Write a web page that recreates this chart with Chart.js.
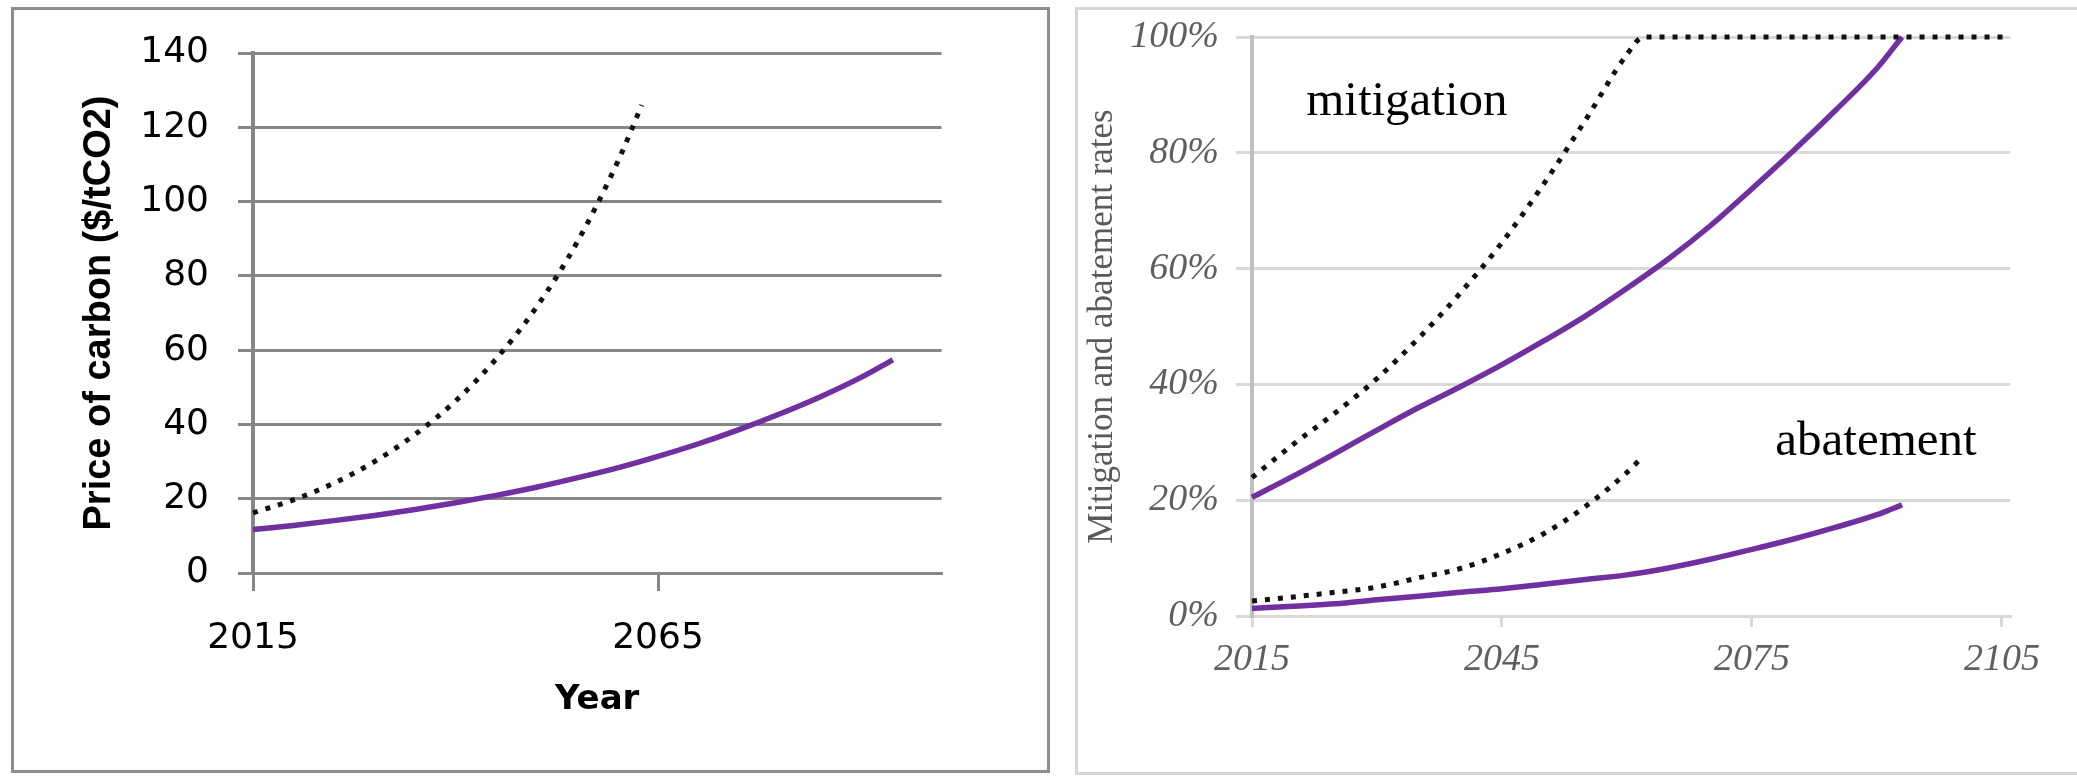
<!DOCTYPE html>
<html>
<head>
<meta charset="utf-8">
<script src="https://cdn.jsdelivr.net/npm/chart.js@4.4.1/dist/chart.umd.min.js"></script>
<style>
  html, body { margin: 0; background: #fff; }
  body { width: 2077px; height: 776px; position: relative; overflow: hidden; }
  .frame { position: absolute; box-sizing: border-box; }
  #leftFrame { left: 11px; top: 7px; width: 1039px; height: 766px; border: 3px solid #8e8e8e; }
  #rightFrame { left: 1075px; top: 7px; width: 1010px; height: 768px; border: 3px solid #d6d6d6; }
  canvas { position: absolute; }
  #priceChart { left: 15px; top: 0; }
  #rateChart { left: 1079px; top: -10px; }
</style>
</head>
<body>
<div class="frame" id="leftFrame"></div>
<div class="frame" id="rightFrame"></div>
<canvas id="priceChart" width="1030" height="776"></canvas>
<canvas id="rateChart" width="998" height="786"></canvas>
<script>
// --- carbon price, $/tCO2 ---
const priceYears = [2015, 2020, 2025, 2030, 2035, 2040, 2045, 2050, 2055, 2060, 2065, 2070, 2075, 2080, 2085, 2090, 2094];
const priceSolid = [11.7, 12.8, 14.1, 15.5, 17.1, 18.9, 20.9, 23.1, 25.6, 28.3, 31.4, 34.8, 38.6, 42.8, 47.4, 52.6, 57.4];
const priceDottedYears = [2015, 2020, 2025, 2030, 2035, 2040, 2045, 2050, 2055, 2060, 2063];
const priceDotted = [16.2, 19.7, 24.2, 30.0, 37.3, 46.3, 57.6, 71.6, 89.0, 110.6, 126];
const priceTicks = [0, 20, 40, 60, 80, 100, 120, 140];
const priceYearTicks = [2015, 2065];

// --- mitigation and abatement rates, % ---
const rateYears = [2015, 2020, 2025, 2030, 2035, 2040, 2045, 2050, 2055, 2060, 2065, 2070, 2075, 2080, 2085, 2090, 2093];
const mitigationSolid = [20.5, 24.2, 28.1, 32.1, 36.0, 39.6, 43.4, 47.5, 51.8, 56.6, 61.7, 67.4, 73.8, 80.4, 87.3, 94.6, 100];
const abatementSolid = [1.3, 1.7, 2.1, 2.8, 3.4, 4.1, 4.7, 5.5, 6.3, 7.1, 8.3, 9.8, 11.5, 13.3, 15.3, 17.5, 19.2];
const mitigationDottedYears = [2015, 2020, 2025, 2030, 2035, 2040, 2045, 2050, 2055, 2060, 2062, 2106];
const mitigationDotted = [23.9, 29.7, 35.1, 41.0, 48.0, 55.8, 64.5, 74.6, 85.6, 97.0, 100, 100];
const abatementDottedYears = [2015, 2020, 2025, 2030, 2035, 2040, 2045, 2050, 2055, 2060, 2062];
const abatementDotted = [2.6, 3.3, 4.1, 5.0, 6.6, 8.2, 10.8, 14.2, 18.9, 24.8, 27.7];
const rateTicks = [0, 20, 40, 60, 80, 100];
const rateYearTicks = [2015, 2045, 2075, 2105];
const rateNotes = [
    { text: 'mitigation', year: 2021.5, value: 86.5 },
    { text: 'abatement', year: 2077.8, value: 27.8 }
];

const PURPLE = '#7030A0';

const pts = (xs, ys) => xs.map((x, i) => ({ x, y: ys[i] }));
const solid = (xs, ys) => ({ data: pts(xs, ys), borderColor: PURPLE, borderWidth: 5.5, pointRadius: 0, cubicInterpolationMode: 'monotone', clip: false });
const dotted = (xs, ys) => ({ data: pts(xs, ys), borderColor: '#111', borderWidth: 5, borderDash: [5, 8], pointRadius: 0, cubicInterpolationMode: 'monotone', clip: false });
const fixTicks = values => scale => { scale.ticks = values.map(v => ({ value: v })); };
const plainYear = v => String(v);

// text labels placed next to the curves
const noteLabels = {
    id: 'noteLabels',
    afterDatasetsDraw(chart, args, opts) {
        const { ctx, scales: { x, y } } = chart;
        ctx.save();
        ctx.font = opts.font;
        ctx.fillStyle = opts.color;
        ctx.textBaseline = 'alphabetic';
        opts.items.forEach(n => ctx.fillText(n.text, x.getPixelForValue(n.year), y.getPixelForValue(n.value)));
        ctx.restore();
    }
};

new Chart(document.getElementById('priceChart'), {
    type: 'line',
    data: { datasets: [dotted(priceDottedYears, priceDotted), solid(priceYears, priceSolid)] },
    options: {
        responsive: false, animation: false, events: [],
        layout: { padding: { left: 0, top: 53, right: 103.5, bottom: 53 } },
        plugins: { legend: { display: false }, tooltip: { enabled: false } },
        scales: {
            x: {
                type: 'linear', min: 2015, max: 2100,
                afterBuildTicks: fixTicks(priceYearTicks),
                afterFit: s => { s.height = 150; },
                grid: { drawOnChartArea: false, color: '#868686', lineWidth: 3, tickLength: 18 },
                border: { color: '#868686', width: 3 },
                ticks: { autoSkip: false, maxRotation: 0, padding: 26, color: '#000', font: { family: "'DejaVu Sans'", size: 36 }, callback: plainYear },
                title: { display: true, text: 'Year', color: '#000', font: { family: "'DejaVu Sans'", size: 34, weight: 'bold' }, padding: { top: 0, bottom: 2.6 } }
            },
            y: {
                min: 0, max: 140,
                afterBuildTicks: fixTicks(priceTicks),
                afterFit: s => { s.width = 238; },
                grid: { color: '#868686', lineWidth: 3, tickLength: 15 },
                border: { color: '#868686', width: 4 },
                ticks: { padding: 29, color: '#000', font: { family: "'DejaVu Sans'", size: 36 } },
                title: { display: true, text: 'Price of carbon ($/tCO2)', color: '#000', font: { family: "'Liberation Sans'", size: 38, weight: 'bold' }, padding: { top: 62, bottom: 0 } }
            }
        }
    }
});

new Chart(document.getElementById('rateChart'), {
    type: 'line',
    data: {
        datasets: [
            dotted(mitigationDottedYears, mitigationDotted),
            solid(rateYears, mitigationSolid),
            dotted(abatementDottedYears, abatementDotted),
            solid(rateYears, abatementSolid)
        ]
    },
    plugins: [noteLabels],
    options: {
        responsive: false, animation: false, events: [],
        layout: { padding: { left: 0, top: 47, right: 66.7, bottom: 60 } },
        plugins: {
            legend: { display: false }, tooltip: { enabled: false },
            noteLabels: { items: rateNotes, font: "49px 'Liberation Serif'", color: '#000' }
        },
        scales: {
            x: {
                type: 'linear', min: 2015, max: 2106,
                afterBuildTicks: fixTicks(rateYearTicks),
                afterFit: s => { s.height = 100; },
                grid: { drawOnChartArea: false, color: '#d9d9d9', lineWidth: 3, tickLength: 11 },
                border: { color: '#d9d9d9', width: 3 },
                ticks: { autoSkip: false, maxRotation: 0, padding: 10, color: '#5f5f5f', font: { family: "'Liberation Serif'", size: 38, style: 'italic' }, callback: plainYear }
            },
            y: {
                min: 0, max: 100,
                afterBuildTicks: fixTicks(rateTicks),
                afterFit: s => { s.width = 173; },
                grid: { color: '#d9d9d9', lineWidth: 3, tickLength: 16 },
                border: { color: '#c0c0c0', width: 4 },
                ticks: { padding: 17, color: '#5f5f5f', font: { family: "'Liberation Serif'", size: 38, style: 'italic' }, callback: v => v + '%' },
                title: { display: true, text: 'Mitigation and abatement rates', color: '#595959', font: { family: "'Liberation Serif'", size: 35 }, padding: { top: 3, bottom: 0 } }
            }
        }
    }
});
</script>
</body>
</html>
